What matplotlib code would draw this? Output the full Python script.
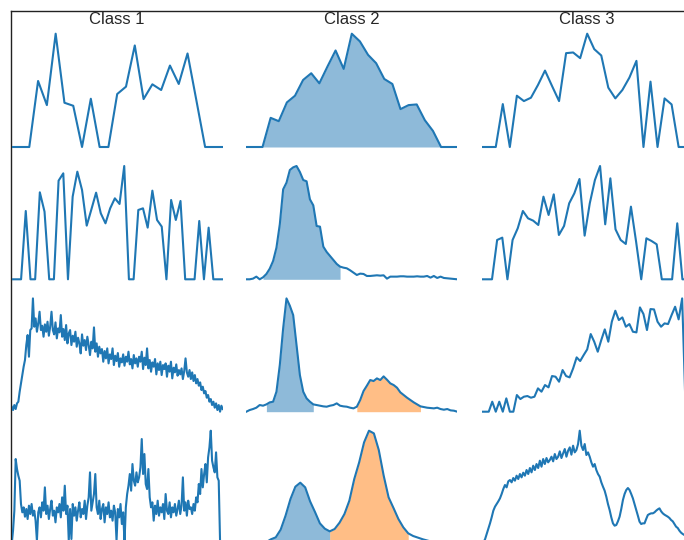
import numpy as np
import matplotlib
matplotlib.use("Agg")
import matplotlib.pyplot as plt

titles = ["Class 1", "Class 2", "Class 3"]

# row 1
c1_r1 = [0, 0, 0, 197, 125, 338, 132, 123, 0, 144, 0, 0, 158, 180, 303,
         143, 187, 170, 243, 188, 279, 140, 0, 0, 0]
c2_r1 = [0, 0, 0, 87, 77, 133, 153, 200, 220, 190, 240, 288, 233, 338,
         315, 275, 250, 203, 188, 113, 125, 127, 80, 48, 0, 0, 0]
c3_r1 = [0, 0, 0, 128, 0, 153, 137, 147, 185, 228, 182, 137, 280, 282,
         265, 338, 292, 273, 177, 145, 170, 207, 257, 0, 195, 0, 145, 127,
         0, 0, 0]

# row 2
c1_r2 = [0, 0, 0, 205, 0, 0, 261, 203, 0, 0, 296, 318, 0, 248, 323, 268,
         161, 210, 260, 198, 168, 213, 243, 226, 340, 0, 0, 208, 213, 155,
         266, 178, 158, 0, 238, 178, 235, 0, 0, 0, 175, 0, 155, 0, 0, 0]
c2_r2 = [0, 0, 2, 8, 0, 6, 16, 32, 55, 95, 165, 270, 290, 328, 336, 340,
         322, 298, 294, 240, 222, 160, 158, 98, 82, 70, 58, 46, 38, 35, 33,
         27, 20, 13, 17, 16, 10, 10, 11, 12, 11, 12, 2, 8, 8, 8, 9, 9, 8, 8,
         8, 9, 8, 8, 10, 5, 10, 4, 8, 4, 3, 2, 1, 0]
c3_r2 = [0, 0, 0, 118, 125, 0, 118, 153, 205, 183, 176, 163, 248, 193,
         255, 133, 160, 228, 258, 301, 131, 228, 298, 340, 165, 303, 150,
         118, 106, 218, 113, 0, 123, 115, 105, 0, 0, 0, 168, 0, 0, 0]

# row 3
c1_r3 = [15, 5, 20, 8, 25, 30, 60, 85, 110, 135,
         155, 200, 230, 165, 245, 250, 340, 255, 280, 240,
         265, 300, 245, 258, 225, 262, 240, 270, 228, 255,
         300, 245, 232, 268, 220, 250, 238, 290, 225, 248,
         215, 260, 205, 235, 245, 200, 228, 210, 240, 195,
         222, 205, 175, 232, 198, 215, 185, 225, 200, 170,
         210, 190, 253, 180, 205, 165, 195, 175, 188, 150,
         182, 160, 190, 145, 172, 158, 190, 140, 168, 152,
         176, 135, 160, 148, 172, 138, 165, 150, 180, 142,
         158, 130, 170, 145, 160, 135, 165, 150, 180, 128,
         162, 140, 190, 130, 155, 120, 148, 135, 158, 112,
         145, 125, 150, 110, 140, 128, 145, 105, 138, 120,
         150, 100, 132, 118, 142, 108, 125, 112, 130, 98,
         122, 160, 118, 105, 125, 98, 118, 92, 110, 85,
         98, 78, 88, 65, 75, 55, 62, 42, 50, 30,
         38, 20, 30, 12, 25, 5, 20, 0, 18, 8]
c2_r3 = [0, 5, 8, 12, 20, 18, 22, 28, 30, 60, 140, 250, 340, 318, 290,
         200, 110, 60, 40, 30, 22, 20, 18, 16, 15, 18, 20, 25, 18, 16, 15,
         12, 10, 15, 35, 62, 78, 95, 92, 100, 95, 106, 96, 85, 80, 72, 58,
         50, 42, 35, 28, 22, 16, 14, 12, 11, 10, 12, 8, 6, 8, 4, 3, 0]
c3_r3 = [0, 0, 0, 30, 0, 30, 0, 40, 0, 0, 50, 38, 45, 47, 42, 45, 70, 60,
         80, 73, 107, 105, 90, 125, 107, 103, 130, 163, 152, 170, 187, 233,
         210, 180, 215, 247, 210, 270, 303, 275, 283, 255, 263, 240, 238,
         313, 293, 245, 308, 307, 270, 255, 265, 263, 290, 315, 277, 340, 0,
         0, 0]

# row 4
c1_r4 = [0, 40, 100, 255, 225, 205, 190, 120, 95, 110,
         82, 105, 75, 115, 90, 120, 85, 100, 70, 10,
         95, 110, 80, 125, 100, 170, 90, 115, 75, 105,
         130, 85, 100, 65, 110, 95, 120, 80, 140, 100,
         175, 90, 115, 10, 105, 15, 120, 85, 110, 70,
         100, 125, 80, 105, 90, 130, 75, 115, 140, 215,
         100, 125, 150, 210, 110, 90, 130, 75, 105, 120,
         65, 110, 90, 125, 80, 100, 70, 115, 95, 10,
         105, 80, 120, 60, 95, 5, 110, 150, 175, 210,
         160, 240, 190, 175, 215, 185, 200, 230, 315, 210,
         270, 180, 165, 225, 140, 110, 125, 70, 115, 90,
         130, 85, 110, 95, 120, 75, 150, 100, 90, 125,
         80, 110, 95, 120, 85, 105, 130, 90, 115, 200,
         100, 125, 85, 130, 105, 110, 90, 120, 100, 140,
         125, 180, 150, 225, 170, 210, 240, 185, 260, 290,
         340, 250, 230, 215, 275, 200, 190, 10, 0, 0]
c2_r4 = [0, 0, 0, 2, 5, 14, 20, 43, 85, 135, 172, 184, 170, 128, 96, 62,
         46, 38, 45, 64, 90, 130, 195, 245, 305, 340, 332, 282, 205, 140,
         108, 75, 50, 32, 24, 19, 14, 10, 6, 3, 2, 1, 0, 0]
c3_r4 = [0, 5, 14, 30, 45, 62, 80, 100, 112, 120,
         128, 137, 150, 165, 177, 170, 188, 192, 185, 198,
         190, 205, 195, 210, 200, 214, 205, 222, 210, 228,
         215, 235, 222, 240, 228, 250, 232, 255, 240, 258,
         245, 252, 262, 248, 270, 255, 262, 278, 258, 272,
         285, 262, 280, 290, 268, 295, 275, 282, 300, 340,
         295, 282, 300, 267, 275, 262, 245, 232, 240, 222,
         210, 202, 185, 172, 160, 142, 120, 102, 80, 62,
         55, 57, 68, 82, 105, 132, 150, 162, 168, 162,
         150, 137, 120, 102, 85, 67, 60, 62, 62, 75,
         87, 90, 92, 92, 95, 100, 104, 107, 98, 92,
         88, 85, 82, 78, 72, 68, 60, 52, 48, 40,
         34, 30, 27, 22, 18, 14, 10, 6]

panels = [
    [c1_r1, c2_r1, c3_r1],
    [c1_r2, c2_r2, c3_r2],
    [c1_r3, c2_r3, c3_r3],
    [c1_r4, c2_r4, c3_r4],
]

# index ranges shaded under the class 2 curve of each row
blue_spans = [(2, 24), (5, 28), (6, 20), (5, 17)]
orange_spans = [None, None, (33, 52), (17, 33)]

W, H = 684, 540
fig = plt.figure(figsize=(W / 100, H / 100), dpi=100)

# outer frame, only its left and top edges fall inside the picture
frame = fig.add_axes([10.5 / W, -0.5, 2.0, 1.5 - 10.5 / H])
frame.set_xticks([])
frame.set_yticks([])
for s in frame.spines.values():
    s.set_color("#222222")
    s.set_linewidth(1.0)

col_left = [11.7, 246.3, 481.7]
col_w = 211.0
row_base = [147.0, 279.3, 411.7, 544.0]
data_h = 113.3

for r, row in enumerate(panels):
    for c, vals in enumerate(row):
        y = np.asarray(vals, dtype=float)
        x = np.arange(len(y))
        top = row_base[r] + 0.05 * data_h
        ax = fig.add_axes([col_left[c] / W, 1 - top / H,
                           col_w / W, 1.1 * data_h / H])
        ax.axis("off")
        ax.plot(x, y, color="C0", lw=1.5)
        if c == 1:
            s, e = blue_spans[r]
            ax.fill_between(x[s:e + 1], 0, y[s:e + 1], color="C0",
                            alpha=0.5, lw=0)
            if orange_spans[r] is not None:
                s, e = orange_spans[r]
                ax.fill_between(x[s:e + 1], 0, y[s:e + 1], color="C1",
                                alpha=0.5, lw=0)
        m = y.max()
        ax.set_xlim(0, len(y) - 1)
        ax.set_ylim(-0.05 * m, 1.05 * m)

for c, t in enumerate(titles):
    fig.text((col_left[c] + col_w / 2) / W, 1 - 24.3 / H, t,
             ha="center", va="baseline", fontsize=12,
             family="Liberation Sans", color="#262626")

fig.savefig("out.png", dpi=100)
